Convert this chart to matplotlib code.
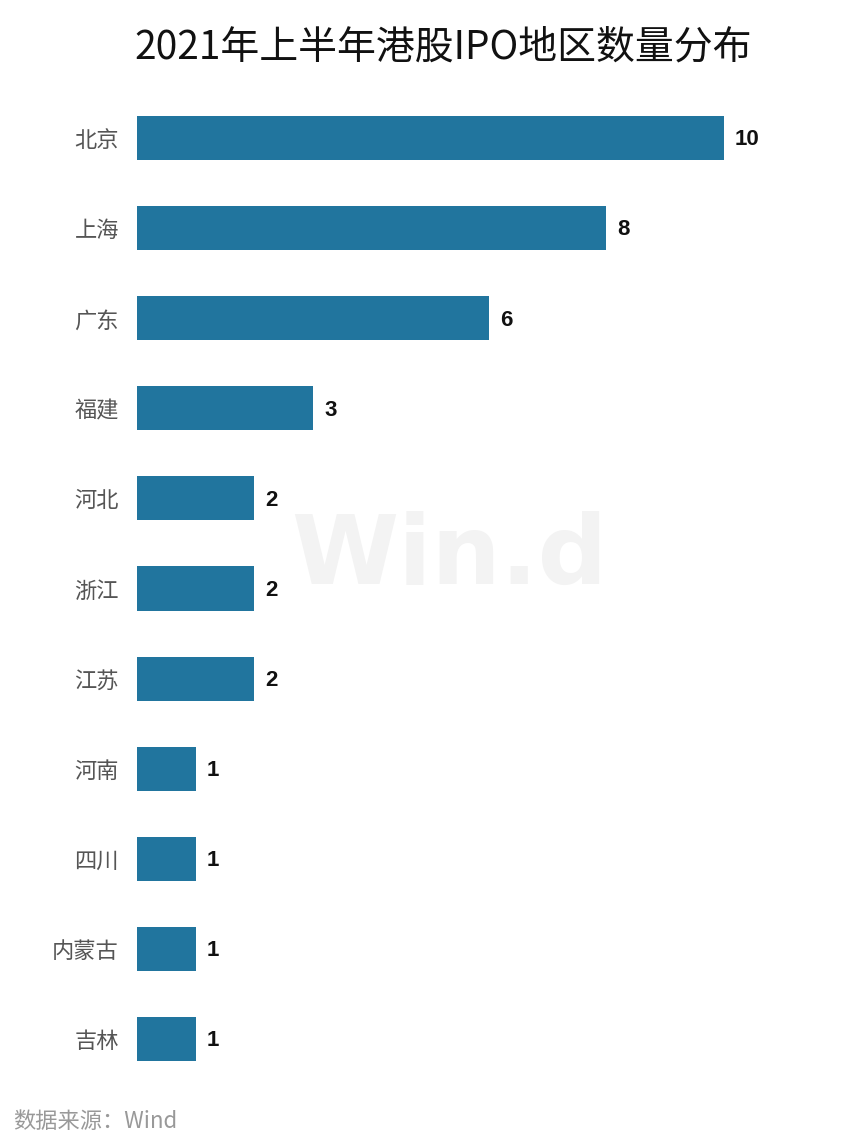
import matplotlib
matplotlib.use("Agg")
from matplotlib import pyplot as plt

# Data
regions = ["北京", "上海", "广东", "福建", "河北", "浙江", "江苏", "河南", "四川", "内蒙古", "吉林"]
counts = [10, 8, 6, 3, 2, 2, 2, 1, 1, 1, 1]
title = "2021年上半年港股IPO地区数量分布"
source = "数据来源：Wind"

plt.rcParams['font.family'] = ['Noto Sans CJK SC', 'DejaVu Sans']

fig = plt.figure(figsize=(8.66, 11.44), dpi=100)
fig.patch.set_facecolor("white")
ax = fig.add_axes([137 / 866, 1 - 1084 / 1144, 704 / 866, 991 / 1144])
ax.patch.set_alpha(0)

# watermark, behind everything
ax.text(449 / 866, 1 - 557 / 1144, "Win.d", ha="center", va="center",
        fontsize=70, fontweight="bold", color="#f3f3f3", zorder=0,
        family=["DejaVu Sans"], transform=fig.transFigure)

y = range(len(regions))
ax.barh(y, counts, height=0.49, color="#21759e", zorder=2)
ax.set_xlim(0, 12)
ax.set_ylim(len(regions) - 0.5, -0.5)

for i, v in enumerate(counts):
    ax.text(v + 0.19, i + 0.02, str(v), va="center", ha="left", fontsize=16,
            fontweight="bold", color="#111111", family=["Liberation Sans"],
            zorder=3)

ax.set_yticks(list(y))
ax.set_yticklabels(regions, fontsize=16, color="#555555")
ax.tick_params(axis="y", length=0, pad=13)
ax.set_xticks([])
for s in ax.spines.values():
    s.set_visible(False)

fig.text(443 / 866, 1 - 47 / 1144, title, ha="center", va="center",
         fontsize=28, color="#111111", fontweight="medium")
fig.text(13 / 866, 1 - 1122 / 1144, source, ha="left", va="center",
         fontsize=16, color="#999999",
         family=["Noto Sans CJK SC", "Liberation Sans"])

fig.savefig("out.png", dpi=100, facecolor="white")
